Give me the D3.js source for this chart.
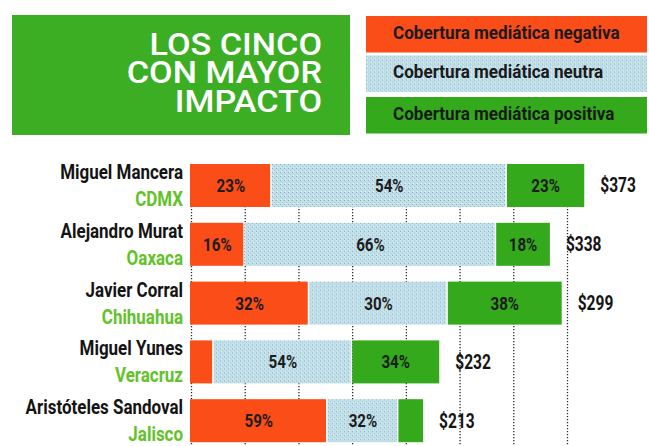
<!DOCTYPE html>
<html>
<head>
<meta charset="utf-8">
<script src="https://cdn.jsdelivr.net/npm/d3@7"></script>
<style>
  body { margin: 0; background: #ffffff; }
  svg { display: block; }
</style>
</head>
<body>
<svg id="chart"></svg>
<script>
// data
const names = ['Miguel Mancera', 'Alejandro Murat', 'Javier Corral', 'Miguel Yunes', 'Aristóteles Sandoval'];
const states = ['CDMX', 'Oaxaca', 'Chihuahua', 'Veracruz', 'Jalisco'];
const totals = [373, 338, 299, 232, 213];
// share of coverage, in percent
const negPct = [23, 16, 32, 12, 59];
const neuPct = [54, 66, 30, 54, 32];
const posPct = [23, 18, 38, 34, 9];
// segment lengths as drawn (in $ units of the axis)
const negLen = [76, 51, 111, 22, 128];
const neuLen = [219, 234, 129, 129, 66];
const posLen = [72, 50, 106, 81, 23];
const gridTicks = [0, 50, 100, 150, 200, 250, 300, 350];
const titleLines = ['LOS CINCO', 'CON MAYOR', 'IMPACTO'];
const legendLabels = ['Cobertura mediática negativa', 'Cobertura mediática neutra', 'Cobertura mediática positiva'];

const colors = { neg: '#fa4d17', neu: '#c2e0ea', pos: '#34a91c', title: '#3cae24', state: '#62c22a' };
const cond = "Roboto, 'Liberation Sans', sans-serif";

// draw a squeezed/stretched text: x is divided by sx so anchors stay put
function condText(sel, x, y, sx) {
    return sel
        .attr('x', typeof x === 'function' ? (d, i) => x(d, i) / sx : x / sx)
        .attr('y', y)
        .attr('transform', `scale(${sx},1)`)
        .style('font-family', cond)
        .style('font-weight', 'bold');
}

class StackedBars {
    constructor(config) {
        this.config = {
            parent: config.parent,
            width: config.width || 649,
            height: config.height || 446,
            margin: config.margin || {top: 164, left: 190, right: 83, bottom: 0},
            rowStep: config.rowStep || 58.8,
            barHeight: config.barHeight || 43
        };
        this.init();
    }

    init() {
        let self = this;

        self.svg = d3.select(self.config.parent)
            .attr('width', self.config.width)
            .attr('height', self.config.height);

        self.xscale = d3.scaleLinear()
            .domain([0, 350])
            .range([self.config.margin.left, self.config.width - self.config.margin.right]);

        self.yscale = d3.scaleBand()
            .domain(names)
            .range([self.config.margin.top, self.config.margin.top + self.config.rowStep * names.length])
            .paddingInner(0);

        // halftone texture for the neutral bars
        const pat = self.svg.append('defs').append('pattern')
            .attr('id', 'dots')
            .attr('width', 4).attr('height', 4)
            .attr('patternUnits', 'userSpaceOnUse');
        pat.append('rect').attr('width', 4).attr('height', 4).attr('fill', colors.neu);
        pat.append('rect').attr('x', 0).attr('y', 0).attr('width', 1).attr('height', 1).attr('fill', '#86aebd');
        pat.append('rect').attr('x', 2).attr('y', 2).attr('width', 1).attr('height', 1).attr('fill', '#a3c6d2');
        pat.append('rect').attr('x', 1).attr('y', 3).attr('width', 1).attr('height', 1).attr('fill', '#e4f2f6');
    }

    render() {
        let self = this;
        const bh = self.config.barHeight;

        // title block
        self.svg.append('rect')
            .attr('x', 12).attr('y', 15)
            .attr('width', 338).attr('height', 120)
            .attr('fill', colors.title);
        condText(self.svg.selectAll('text.title')
            .data(titleLines)
            .join('text')
            .attr('class', 'title'), 322, (d, i) => 55 + i * 28.3, 1.07)
            .attr('text-anchor', 'end')
            .attr('fill', '#ffffff')
            .style('font-weight', 500)
            .style('font-size', '32px')
            .text(d => d);

        // legend
        const legColors = [colors.neg, 'url(#dots)', colors.pos];
        const legY = [16, 55.5, 97];
        const leg = self.svg.selectAll('g.legend')
            .data(legendLabels)
            .join('g')
            .attr('class', 'legend')
            .attr('transform', (d, i) => `translate(366, ${legY[i]})`);
        leg.append('rect')
            .attr('width', 281).attr('height', 36.5)
            .attr('fill', (d, i) => legColors[i]);
        condText(leg.append('text'), 27, 23, 0.9)
            .attr('fill', '#1a1a1a')
            .style('font-size', '19px')
            .text(d => d);

        // dotted grid behind the bars
        self.svg.selectAll('line.grid')
            .data(gridTicks)
            .join('line')
            .attr('class', 'grid')
            .attr('x1', d => self.xscale(d) + 1.5)
            .attr('x2', d => self.xscale(d) + 1.5)
            .attr('y1', self.config.margin.top)
            .attr('y2', self.config.height)
            .attr('stroke', '#2a2a2a')
            .attr('stroke-width', 1.3)
            .attr('stroke-dasharray', '1.3 1.7');

        const rows = names.map((n, i) => {
            const segs = [
                {len: negLen[i], pct: negPct[i], fill: colors.neg},
                {len: neuLen[i], pct: neuPct[i], fill: 'url(#dots)'},
                {len: posLen[i], pct: posPct[i], fill: colors.pos}
            ];
            let acc = 0;
            segs.forEach(s => { s.x0 = acc; acc += s.len; s.x1 = acc; });
            return {name: n, state: states[i], total: totals[i], segs: segs, end: acc};
        });

        const row = self.svg.selectAll('g.row')
            .data(rows)
            .join('g')
            .attr('class', 'row')
            .attr('transform', d => `translate(0, ${self.yscale(d.name)})`);

        row.selectAll('rect.seg')
            .data(d => d.segs)
            .join('rect')
            .attr('class', 'seg')
            .attr('x', d => self.xscale(d.x0))
            .attr('y', 0)
            .attr('width', (d, i) => self.xscale(d.x1) - self.xscale(d.x0) - (i < 2 ? 1.5 : 0))
            .attr('height', bh)
            .attr('fill', d => d.fill);

        condText(row.selectAll('text.pct')
            .data(d => d.segs.filter(s => self.xscale(s.x1) - self.xscale(s.x0) > 30))
            .join('text')
            .attr('class', 'pct'),
            d => (self.xscale(d.x0) + self.xscale(d.x1)) / 2, bh / 2 + 6.5, 0.82)
            .attr('text-anchor', 'middle')
            .attr('fill', '#1c1c1c')
            .style('font-size', '18.5px')
            .text(d => d.pct + '%');

        condText(row.append('text'), self.config.margin.left - 7, 15, 0.87)
            .attr('text-anchor', 'end')
            .attr('fill', '#141414')
            .style('font-size', '19.5px')
            .text(d => d.name);

        condText(row.append('text'), self.config.margin.left - 7, bh - 1, 0.87)
            .attr('text-anchor', 'end')
            .attr('fill', colors.state)
            .style('font-size', '19.5px')
            .text(d => d.state);

        condText(row.append('text'), d => self.xscale(d.end) + 16, bh / 2 + 7, 0.74)
            .attr('fill', '#141414')
            .style('font-size', '21px')
            .text(d => '$' + d.total);
    }
}

const chart = new StackedBars({parent: '#chart'});
chart.render();
</script>
</body>
</html>
